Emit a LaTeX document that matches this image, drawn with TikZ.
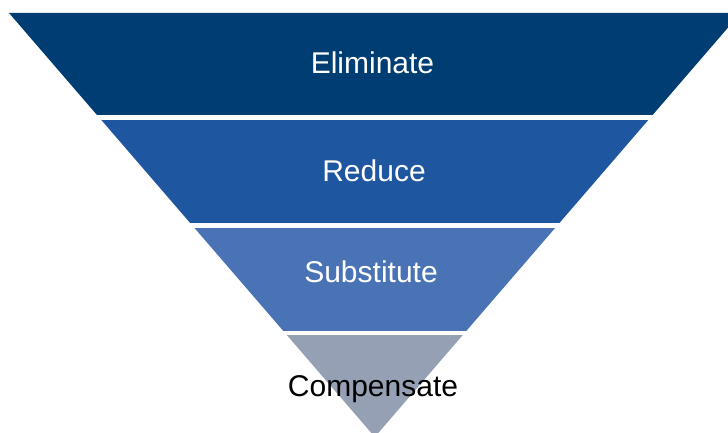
\documentclass[tikz,border=0pt]{standalone}
\usepackage{fontspec}
\setmainfont{Liberation Sans}
\definecolor{bandA}{HTML}{003D72}
\definecolor{bandB}{HTML}{1E56A0}
\definecolor{bandC}{HTML}{4A73B6}
\definecolor{bandD}{HTML}{96A0B4}
\tikzset{
  lbl/.style={anchor=base, inner sep=0pt, font=\fontsize{30}{36}\selectfont},
}
\begin{document}
\begin{tikzpicture}[x=1pt,y=-1pt]
\useasboundingbox (0,0) rectangle (728,433);
\clip (0,0) rectangle (728,433);
\coordinate (TL) at (9,13);
\coordinate (TR) at (740.6,13);
\coordinate (AP) at (374.8,437);
\begin{scope}
  \clip (0,13) rectangle (728,115);
  \fill[bandA] (TL) -- (TR) -- (AP) -- cycle;
\end{scope}
\begin{scope}
  \clip (0,121) rectangle (728,222);
  \fill[bandB] (TL) -- (TR) -- (AP) -- cycle;
\end{scope}
\begin{scope}
  \clip (0,228) rectangle (728,330);
  \fill[bandC] (TL) -- (TR) -- (AP) -- cycle;
\end{scope}
\begin{scope}
  \clip (0,335) rectangle (728,440);
  \fill[bandD] (TL) -- (TR) -- (AP) -- cycle;
\end{scope}
\node[lbl, text=white] (elim) at (372.5,73.3) {Eliminate};
\node[lbl, text=white] (red) at (374,181.7) {Reduce};
\node[lbl, text=white] (sub) at (371,282.7) {Substitute};
\node[lbl, text=black] (comp) at (373,396) {Compensate};
\end{tikzpicture}
\end{document}
